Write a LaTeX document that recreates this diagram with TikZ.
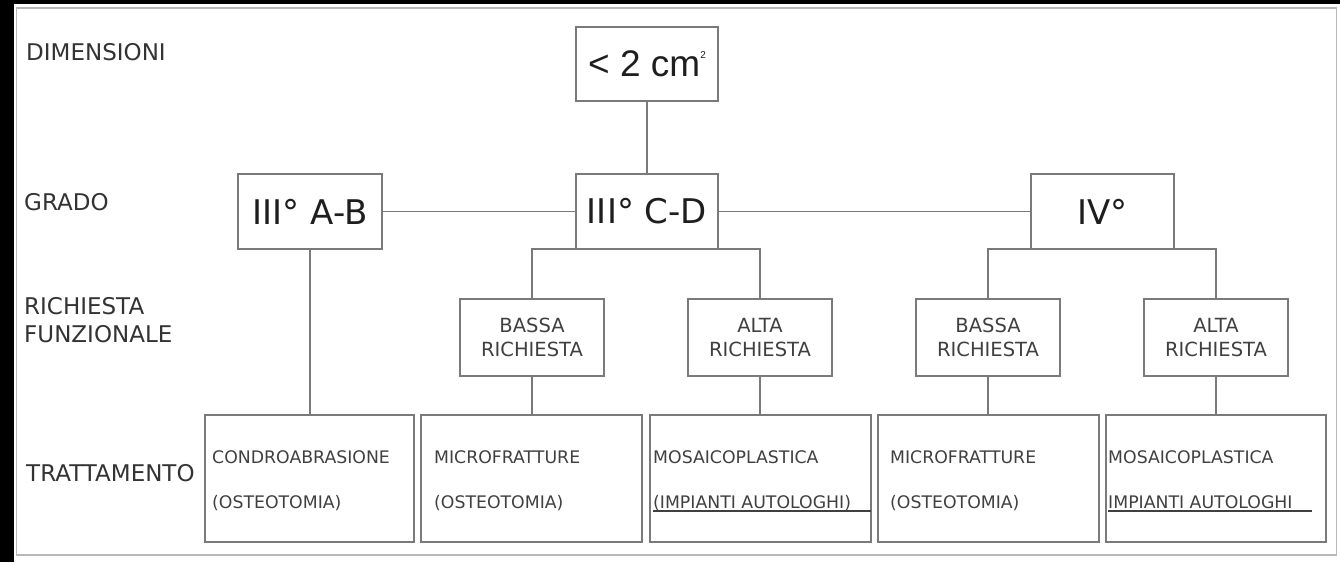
\documentclass[tikz,border=0pt]{standalone}
\usepackage{fontspec}
\setmainfont{DejaVu Sans}
\newfontfamily\arialf{Liberation Sans}
\definecolor{linec}{HTML}{7A7A7A}
\definecolor{labc}{HTML}{333333}
\definecolor{bigc}{HTML}{1E1E1E}
\definecolor{smallc}{HTML}{404040}
\definecolor{framec}{HTML}{B8B8B8}
\begin{document}
\begin{tikzpicture}[x=1pt,y=-1pt,
  box/.style={draw=linec, line width=1.4pt, inner sep=0pt, outer sep=0pt, align=center, fill=white},
  bigbox/.style={box, minimum height=75pt, text=bigc, font=\fontsize{34}{38}\selectfont},
  reqbox/.style={box, minimum width=144pt, minimum height=77pt, text=smallc, font=\fontsize{19.5}{24}\selectfont},
  trbox/.style={box, minimum height=127pt},
  lab/.style={anchor=base west, inner sep=0pt, text=labc, font=\fontsize{23}{26}\selectfont},
  tt/.style={anchor=base west, inner sep=0pt, text=smallc, font=\fontsize{17.3}{20}\selectfont},
  conn/.style={draw=linec, line width=1.4pt},
  ul/.style={draw=smallc, line width=1.1pt}
]
\useasboundingbox (0,0) rectangle (1340,562);
\fill[white] (0,0) rectangle (1340,562);
\fill[black] (0,0) rectangle (1340,4);
\fill[black] (0,0) rectangle (14,562);
\draw[framec, line width=1.6pt] (16.5,8) rectangle (1336.5,555);

% left labels
\node[lab] (ldim) at (26,60) {DIMENSIONI};
\node[lab] (lgr) at (24,210) {GRADO};
\node[lab] (lric) at (24,314) {RICHIESTA};
\node[lab] (lfun) at (24,342) {FUNZIONALE};
\node[lab] (ltra) at (26,481) {TRATTAMENTO};

% level 1
\node[box, minimum width=142pt, minimum height=74pt, text=bigc, font=\arialf\fontsize{37}{40}\selectfont] (top) at (647,64)
  {< 2 cm\raisebox{18pt}{\fontsize{10}{10}\selectfont 2}};

% level 2
\node[bigbox, minimum width=144pt] (AB) at (310,211.5) {III° A-B};
\node[bigbox, minimum width=142pt] (CD) at (647,211.5) {III° C-D};
\node[bigbox, minimum width=143pt] (IV) at (1102.5,211.5) {IV°};

% level 3
\node[reqbox] (b1) at (532,337.5) {BASSA\\RICHIESTA};
\node[reqbox] (a1) at (760,337.5) {ALTA\\RICHIESTA};
\node[reqbox] (b2) at (988,337.5) {BASSA\\RICHIESTA};
\node[reqbox] (a2) at (1216,337.5) {ALTA\\RICHIESTA};

% level 4
\node[trbox, minimum width=209pt] (t1) at (309.5,478.5) {};
\node[trbox, minimum width=221pt] (t2) at (531.5,478.5) {};
\node[trbox, minimum width=221pt] (t3) at (760.5,478.5) {};
\node[trbox, minimum width=221pt] (t4) at (988.5,478.5) {};
\node[trbox, minimum width=220pt] (t5) at (1216,478.5) {};

\node[tt] (t1a) at (212,463) {CONDROABRASIONE};
\node[tt] (t1b) at (212,508) {(OSTEOTOMIA)};
\node[tt] (t2a) at (434,463) {MICROFRATTURE};
\node[tt] (t2b) at (434,508) {(OSTEOTOMIA)};
\node[tt] (t3a) at (653,463) {MOSAICOPLASTICA};
\node[tt] (t3b) at (653,508) {(IMPIANTI AUTOLOGHI)};
\node[tt] (t4a) at (890,463) {MICROFRATTURE};
\node[tt] (t4b) at (890,508) {(OSTEOTOMIA)};
\node[tt] (t5a) at (1108,463) {MOSAICOPLASTICA};
\node[tt] (t5b) at (1108,508) {IMPIANTI AUTOLOGHI};

\coordinate (u3) at (653,511);
\coordinate (u5a) at (1108,511);
\coordinate (u5b) at (1312,511);
\draw[ul] (u3) -- (u3 -| t3.east);
\draw[ul] (u5a) -- (u5b);

% connectors
\draw[conn] (top.south) -- (CD.north);
\draw[conn] (AB.east) -- (CD.west);
\draw[conn] (CD.east) -- (IV.west);
\draw[conn] (b1.north) -- (b1.north |- CD.south) -- (a1.north |- CD.south) -- (a1.north);
\draw[conn] (b2.north) -- (b2.north |- IV.south) -- (a2.north |- IV.south) -- (a2.north);
\draw[conn] (AB.south) -- (AB.south |- t1.north);
\draw[conn] (b1.south) -- (b1.south |- t2.north);
\draw[conn] (a1.south) -- (a1.south |- t3.north);
\draw[conn] (b2.south) -- (b2.south |- t4.north);
\draw[conn] (a2.south) -- (a2.south |- t5.north);
\end{tikzpicture}
\end{document}
